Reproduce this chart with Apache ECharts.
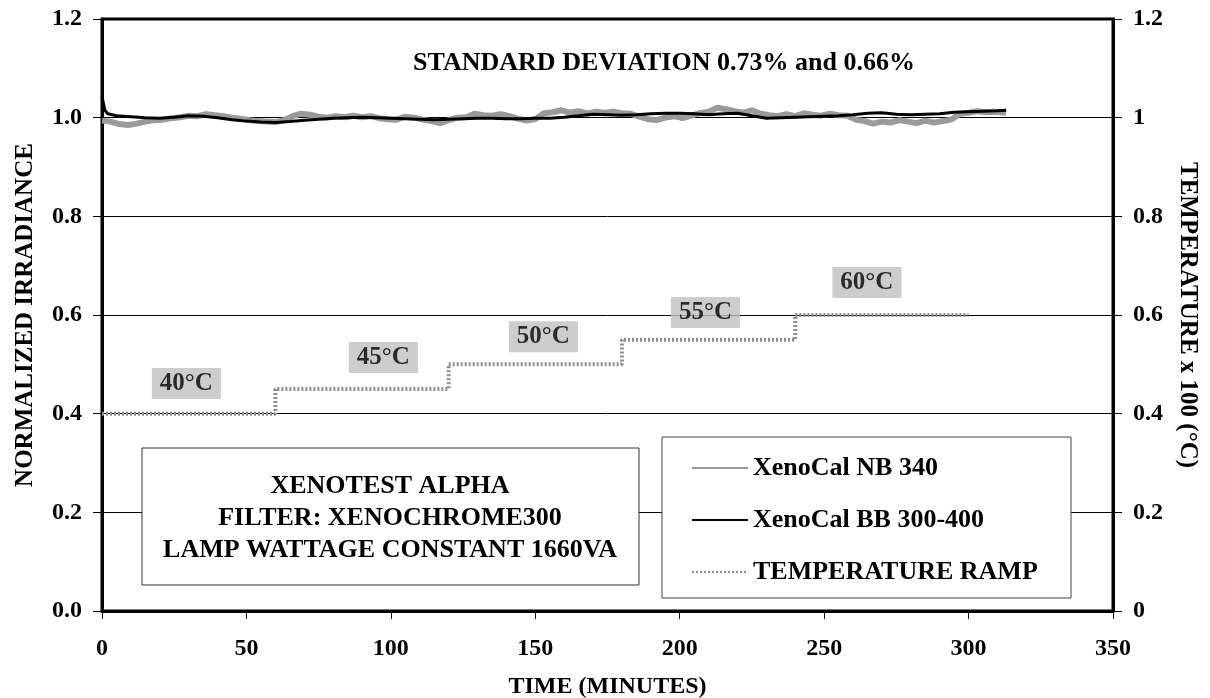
<!DOCTYPE html>
<html>
<head>
<meta charset="utf-8">
<script src="https://cdn.jsdelivr.net/npm/echarts@6/dist/echarts.min.js"></script>
<style>
html,body{margin:0;padding:0;background:#fff;}
#c{width:1210px;height:698px;}
</style>
</head>
<body>
<div id="c"></div>
<script>
// ---- data ----
var xTicks = [0, 50, 100, 150, 200, 250, 300, 350];
var nbTimes = [0,3,6,9,12,15,18,21,24,27,30,33,36,39,42,45,48,51,54,57,60,63,66,69,72,75,78,81,84,87,90,93,96,99,102,105,108,111,114,117,120,123,126,129,132,135,138,141,144,147,150,153,156,159,162,165,168,171,174,177,180,183,186,189,192,195,198,201,204,207,210,213,216,219,222,225,228,231,234,237,240,243,246,249,252,255,258,261,264,267,270,273,276,279,282,285,288,291,294,297,300,303,306,309,313];
var nbValues = [0.994,0.992,0.987,0.985,0.988,0.992,0.995,0.996,0.999,1.001,1.004,1.003,1.007,1.005,1.003,1.000,0.998,0.995,0.993,0.992,0.991,0.995,1.003,1.008,1.006,1.002,1.000,1.003,1.001,1.004,1.001,1.003,0.999,0.997,0.996,1.002,1.000,0.996,0.993,0.989,0.995,1.000,1.001,1.008,1.005,1.004,1.007,1.003,0.998,0.994,0.997,1.009,1.011,1.015,1.010,1.013,1.008,1.012,1.010,1.012,1.009,1.008,1.002,0.997,0.995,1.000,1.003,0.999,1.004,1.009,1.012,1.020,1.017,1.013,1.010,1.015,1.008,1.005,1.003,1.007,1.003,1.009,1.006,1.004,1.008,1.005,1.004,0.996,0.993,0.988,0.992,0.990,0.995,0.992,0.989,0.994,0.990,0.993,0.996,1.008,1.010,1.013,1.011,1.012,1.010];
var bbTimes = [0,1,2,5,10,15,20,25,30,35,40,45,50,55,60,65,70,75,80,85,90,95,100,105,110,115,120,125,130,135,140,145,150,155,160,165,170,175,180,185,190,195,200,205,210,215,220,225,230,235,240,245,250,255,260,265,270,275,280,285,290,295,300,305,310,313];
var bbValues = [1.043,1.015,1.008,1.004,1.002,1.000,0.999,1.001,1.004,1.003,1.000,0.996,0.993,0.991,0.990,0.992,0.995,0.997,0.999,1.000,1.001,1.000,0.999,0.998,0.997,0.996,0.997,0.998,0.999,0.999,0.998,0.998,0.999,0.999,1.001,1.004,1.007,1.006,1.005,1.006,1.008,1.009,1.009,1.008,1.006,1.008,1.009,1.004,0.999,1.000,1.001,1.002,1.003,1.004,1.006,1.009,1.010,1.007,1.006,1.007,1.008,1.011,1.012,1.013,1.014,1.015];
var tempTimes = [0,60,60,120,120,180,180,240,240,300];
var tempValues = [0.40,0.40,0.45,0.45,0.50,0.50,0.55,0.55,0.60,0.60];
var tempLabels = ['40°C','45°C','50°C','55°C','60°C'];
var tempLabelX = [29.2, 97.4, 152.8, 208.9, 264.8];
var tempLabelY = [0.461, 0.514, 0.556, 0.605, 0.666];
var seriesNames = ['XenoCal NB 340', 'XenoCal BB 300-400', 'TEMPERATURE RAMP'];
var titleText = 'STANDARD DEVIATION 0.73% and 0.66%';
var noteLines = ['XENOTEST ALPHA', 'FILTER: XENOCHROME300', 'LAMP WATTAGE CONSTANT 1660VA'];

function zip(a, b) { return a.map(function (v, i) { return [v, b[i]]; }); }

var FONT = 'Liberation Serif';
var chart = echarts.init(document.getElementById('c'), null, {renderer: 'canvas'});

var option = {
  backgroundColor: '#fff',
  animation: false,
  grid: {left: 102, right: 97, top: 19, bottom: 87, containLabel: false, outerBoundsMode: 'none',
         show: true, borderColor: '#000', borderWidth: 3, backgroundColor: 'transparent'},
  xAxis: {
    type: 'value', min: 0, max: 350, interval: 50,
    name: 'TIME (MINUTES)', nameLocation: 'middle', nameGap: 64,
    nameTextStyle: {fontFamily: FONT, fontWeight: 'bold', fontSize: 24, color: '#000'},
    axisLine: {show: true, lineStyle: {color: '#000', width: 3}},
    axisTick: {show: true, inside: false, length: 8, lineStyle: {color: '#000', width: 1}},
    axisLabel: {margin: 26, fontFamily: FONT, fontWeight: 'bold', fontSize: 24, color: '#000'},
    splitLine: {show: false}
  },
  yAxis: [{
    type: 'value', min: 0, max: 1.2, interval: 0.2, position: 'left',
    name: 'NORMALIZED IRRADIANCE', nameLocation: 'middle', nameGap: 64, nameRotate: 90,
    nameTextStyle: {fontFamily: FONT, fontWeight: 'bold', fontSize: 25, color: '#000'},
    axisLine: {show: true, lineStyle: {color: '#000', width: 3}},
    axisTick: {show: true, inside: false, length: 9, lineStyle: {color: '#000', width: 1}},
    axisLabel: {margin: 20, fontFamily: FONT, fontWeight: 'bold', fontSize: 24, color: '#000',
                formatter: function (v) { return v.toFixed(1); }},
    splitLine: {show: true, lineStyle: {color: '#000', width: 1}}
  }, {
    type: 'value', min: 0, max: 1.2, interval: 0.2, position: 'right',
    name: 'TEMPERATURE x 100 (°C)', nameLocation: 'middle', nameGap: 62, nameRotate: -90,
    nameTextStyle: {fontFamily: FONT, fontWeight: 'bold', fontSize: 25, color: '#000'},
    axisLine: {show: true, lineStyle: {color: '#000', width: 3}},
    axisTick: {show: true, inside: false, length: 9, lineStyle: {color: '#000', width: 1}},
    axisLabel: {margin: 20, fontFamily: FONT, fontWeight: 'bold', fontSize: 24, color: '#000',
                formatter: function (v) { return String(Math.round(v * 10) / 10); }},
    splitLine: {show: false}
  }],
  legend: {
    orient: 'vertical', left: 686, top: 450, z: 10,
    itemWidth: 56, itemHeight: 14, itemGap: 26,
    data: seriesNames,
    itemStyle: {color: 'rgba(0,0,0,0)', borderColor: 'rgba(0,0,0,0)', borderWidth: 0},
    textStyle: {fontFamily: FONT, fontWeight: 'bold', fontSize: 26, color: '#000'}
  },
  graphic: [
    {type: 'rect', z: 5, shape: {x: 142, y: 448, width: 497, height: 137},
     style: {fill: '#fff', stroke: '#333', lineWidth: 1}},
    {type: 'text', z: 6, x: 390, y: 518,
     style: {text: noteLines.join('\n'), font: 'bold 26px "Liberation Serif"', fill: '#000',
             align: 'center', verticalAlign: 'middle', lineHeight: 32}},
    {type: 'rect', z: 5, shape: {x: 662, y: 437, width: 409, height: 161},
     style: {fill: '#fff', stroke: '#444', lineWidth: 1}},
    {type: 'text', z: 6, x: 664, y: 63,
     style: {text: titleText, font: 'bold 26px "Liberation Serif"', fill: '#000',
             align: 'center', verticalAlign: 'middle'}}
  ],
  series: [
    {name: seriesNames[0], type: 'line', yAxisIndex: 0, symbol: 'none', z: 3,
     data: zip(nbTimes, nbValues),
     lineStyle: {color: '#9a9a9a', width: 6}, itemStyle: {color: '#9a9a9a'}},
    {name: seriesNames[1], type: 'line', yAxisIndex: 0, symbol: 'none', z: 4,
     data: zip(bbTimes, bbValues),
     lineStyle: {color: '#000', width: 3}, itemStyle: {color: '#000'}},
    {name: seriesNames[2], type: 'line', yAxisIndex: 1, symbol: 'none', z: 3,
     data: zip(tempTimes, tempValues),
     lineStyle: {color: '#8c8c8c', width: 4, type: [2, 2]}, itemStyle: {color: '#8c8c8c'}},
    {name: 'labels', type: 'scatter', yAxisIndex: 1, symbolSize: 0, z: 7,
     data: tempLabels.map(function (t, i) { return {name: t, value: [tempLabelX[i], tempLabelY[i]]}; }),
     label: {show: true, position: 'inside', formatter: '{b}', backgroundColor: '#c0c0c0',
             padding: [4, 8, 2, 8], fontFamily: FONT, fontWeight: 'bold', fontSize: 25, color: '#000'}}
  ]
};
chart.setOption(option);
</script>
</body>
</html>
